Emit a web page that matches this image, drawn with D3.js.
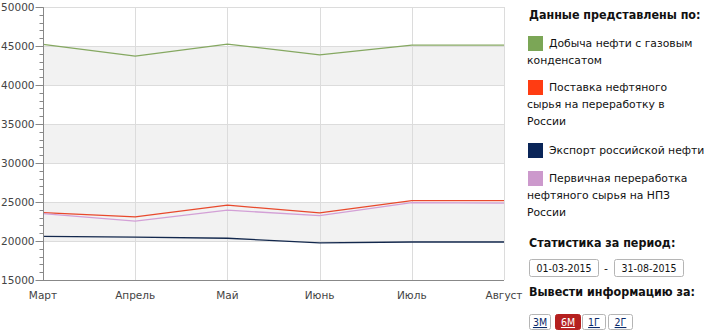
<!DOCTYPE html>
<html>
<head>
<meta charset="utf-8">
<script src="https://cdn.jsdelivr.net/npm/d3@7"></script>
<style>
  body { margin: 0; background: #fff; }
  svg text { font-family: "DejaVu Sans", sans-serif; }
  .legend text { font-family: "DejaVu Sans", sans-serif; font-size: 10.8px; fill: #111; }
  .legend .head { font-family: "DejaVu Sans Condensed", "DejaVu Sans", sans-serif; font-weight: bold; font-size: 12.4px; }
  .legend .small { font-family: "DejaVu Sans Condensed", "DejaVu Sans", sans-serif; font-size: 10.5px; }
</style>
</head>
<body>
<svg id="chart" width="708" height="334"></svg>
<script>
// months on the x axis
let months = ["Март", "Апрель", "Май", "Июнь", "Июль", "Август"];
// series values
let oilProduction = [45200, 43700, 45250, 43850, 45120, 45120];
let refinerySupply = [23650, 23100, 24600, 23600, 25180, 25180];
let exportOil = [20600, 20500, 20350, 19750, 19870, 19870];
let primaryRefining = [23500, 22550, 23950, 23250, 24920, 24850];
let yTicks = [15000, 20000, 25000, 30000, 35000, 40000, 45000, 50000];

let series = [
  {name: "Добыча нефти с газовым конденсатом", values: oilProduction, line: "#85a861", box: "#7ba656"},
  {name: "Поставка нефтяного сырья на переработку в России", values: refinerySupply, line: "#e8492c", box: "#ff3c12"},
  {name: "Экспорт российской нефти", values: exportOil, line: "#13284d", box: "#0a2558"},
  {name: "Первичная переработка нефтяного сырья на НПЗ России", values: primaryRefining, line: "#d3a0d6", box: "#cc99cc"}
];
// legend lines as they wrap in the picture
let legendLines = [
  ["Добыча нефти с газовым", "конденсатом"],
  ["Поставка нефтяного", "сырья на переработку в", "России"],
  ["Экспорт российской нефти"],
  ["Первичная переработка", "нефтяного сырья на НПЗ", "России"]
];
let periodDates = ["01-03-2015", "31-08-2015"];
let periodButtons = ["3М", "6М", "1Г", "2Г"];
let activeButton = "6М";

let svg = d3.select("#chart");
let pLeft = 43, pRight = 504, pTop = 7, pBottom = 280;

let x = d3.scalePoint().domain(months).range([pLeft, pRight]);
let y = d3.scaleLinear().domain([15000, 50000]).range([pBottom, pTop]);

let plot = svg.append("g");

// alternating bands
let bands = [[20000, 25000], [30000, 35000], [40000, 45000]];
plot.selectAll("rect.band").data(bands).enter().append("rect")
  .attr("x", pLeft).attr("width", pRight - pLeft)
  .attr("y", d => y(d[1])).attr("height", d => y(d[0]) - y(d[1]))
  .attr("fill", "#f2f2f2");

// grid
plot.selectAll("line.hgrid").data(yTicks).enter().append("line")
  .attr("x1", pLeft).attr("x2", pRight)
  .attr("y1", d => Math.round(y(d)) + 0.5).attr("y2", d => Math.round(y(d)) + 0.5)
  .attr("stroke", "#dcdcdc");
plot.selectAll("line.vgrid").data(months).enter().append("line")
  .attr("x1", d => Math.round(x(d)) + 0.5).attr("x2", d => Math.round(x(d)) + 0.5)
  .attr("y1", pTop).attr("y2", pBottom)
  .attr("stroke", "#dcdcdc");

// y axis with minor ticks
let minor = d3.range(15000, 50001, 1000);
let yAxis = svg.append("g").attr("transform", "translate(" + (pLeft + 0.5) + ",0.5)");
yAxis.append("line").attr("y1", pTop).attr("y2", pBottom).attr("stroke", "#888");
yAxis.selectAll("line.minor").data(minor).enter().append("line")
  .attr("x1", -4).attr("x2", 0)
  .attr("y1", d => Math.round(y(d))).attr("y2", d => Math.round(y(d)))
  .attr("stroke", "#888");
yAxis.selectAll("line.major").data(yTicks).enter().append("line")
  .attr("x1", -8).attr("x2", 0)
  .attr("y1", d => Math.round(y(d))).attr("y2", d => Math.round(y(d)))
  .attr("stroke", "#888");
yAxis.selectAll("text").data(yTicks).enter().append("text")
  .attr("x", -9).attr("y", d => y(d)).attr("dy", "0.35em")
  .attr("text-anchor", "end").attr("font-size", 10.5).attr("fill", "#444")
  .text(d => d);

// x axis
let xAxis = svg.append("g");
xAxis.append("line").attr("x1", pLeft).attr("x2", pRight)
  .attr("y1", pBottom + 0.5).attr("y2", pBottom + 0.5).attr("stroke", "#888");
xAxis.selectAll("text").data(months).enter().append("text")
  .attr("x", d => x(d)).attr("y", 299)
  .attr("text-anchor", "middle").attr("font-size", 10.5).attr("fill", "#444")
  .text(d => d);

// lines
let line = d3.line().x((d, i) => x(months[i])).y(d => y(d));
plot.selectAll("path.series").data(series).enter().append("path")
  .attr("d", d => line(d.values))
  .attr("fill", "none").attr("stroke", d => d.line).attr("stroke-width", 1.3);

// legend panel
let legend = svg.append("g").attr("class", "legend");
legend.append("text").attr("class", "head").attr("x", 529).attr("y", 19).text("Данные представлены по:");

let itemTop = [36, 80, 143, 171];
series.forEach(function(s, i) {
  let g = legend.append("g");
  g.append("rect").attr("x", 528).attr("y", itemTop[i]).attr("width", 15).attr("height", 15).attr("fill", s.box);
  legendLines[i].forEach(function(t, j) {
    g.append("text").attr("x", j === 0 ? 549 : 527).attr("y", itemTop[i] + 11 + j * 17).text(t);
  });
});

legend.append("text").attr("class", "head").attr("x", 529).attr("y", 247).text("Статистика за период:");
let dateX = [529, 614];
periodDates.forEach(function(d, i) {
  legend.append("rect").attr("x", dateX[i] + 0.5).attr("y", 259.5).attr("width", 69).attr("height", 17)
    .attr("rx", 2).attr("fill", "#fff").attr("stroke", "#b5b5b5");
  legend.append("text").attr("class", "small").attr("x", dateX[i] + 35).attr("y", 272).attr("text-anchor", "middle")
    .text(d);
});
legend.append("text").attr("x", 606).attr("y", 272).attr("text-anchor", "middle").attr("fill", "#999").text("-");

legend.append("text").attr("class", "head").attr("x", 529).attr("y", 296).text("Вывести информацию за:");
let btnX = [529, 555, 582, 608];
let btnW = [21, 25, 23, 24];
periodButtons.forEach(function(b, i) {
  let on = b === activeButton;
  legend.append("rect").attr("x", btnX[i] + 0.5).attr("y", 314.5).attr("width", btnW[i]).attr("height", 15)
    .attr("rx", 2).attr("fill", on ? "#b5201f" : "#fff").attr("stroke", on ? "#b5201f" : "#b5b5b5");
  legend.append("text").attr("class", "small").attr("x", btnX[i] + btnW[i] / 2 + 0.5).attr("y", 326).attr("text-anchor", "middle")
    .attr("text-decoration", "underline")
    .style("fill", on ? "#fff" : "#0a2a6a").text(b);
});
</script>
</body>
</html>
